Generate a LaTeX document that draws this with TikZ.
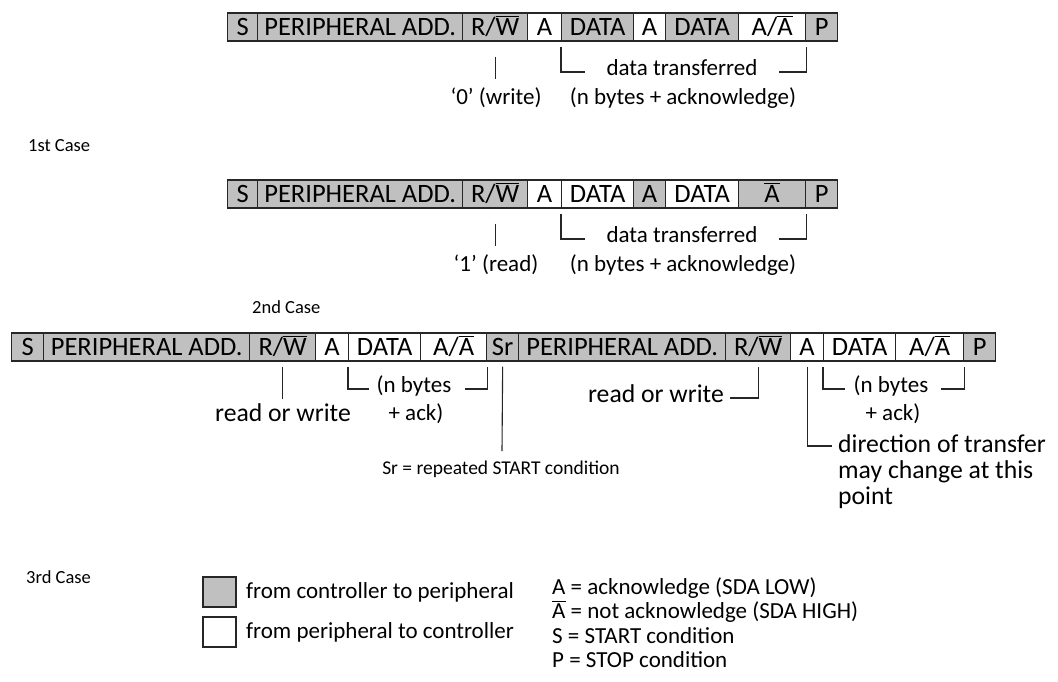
\documentclass[tikz,border=0pt]{standalone}
\usepackage{fontspec}
\setmainfont{Carlito}
\usetikzlibrary{calc}

\definecolor{cellgray}{RGB}{192,192,192}
\definecolor{edge}{RGB}{38,38,38}

% letter with a bar over it (R/W-bar, A-bar)
\newcommand\ovl[1]{\leavevmode\vbox{\hrule height 1.1pt\kern 1.6pt\hbox{#1}}}

\tikzset{
  cell/.style={draw=edge, line width=1.3pt, minimum height=28pt, inner sep=0pt,
    anchor=west, text height=17pt, text depth=0pt,
    font=\fontsize{26.5}{30}\selectfont},
  ctrl/.style={cell, fill=cellgray},
  peri/.style={cell, fill=white},
  conn/.style={draw=edge, line width=1.1pt},
  ann/.style={inner sep=0pt, anchor=base, font=\fontsize{23}{27}\selectfont},
  annbig/.style={inner sep=0pt, anchor=base, font=\fontsize{25.7}{29}\selectfont},
  annsmall/.style={inner sep=0pt, anchor=base, font=\fontsize{19.5}{23}\selectfont},
  caselabel/.style={inner sep=0pt, anchor=base west, font=\fontsize{18.5}{22}\selectfont},
  legbox/.style={draw=edge, line width=1.3pt, minimum width=33pt, minimum height=30pt, inner sep=0pt},
}

\begin{document}
\begin{tikzpicture}[x=1pt,y=-1pt]
\useasboundingbox (0,0) rectangle (1058,681);

% ---------- 1st case: controller writes ----------
\node[ctrl, minimum width=30pt]  (a1) at (227,27) {S};
\node[ctrl, minimum width=205pt] (a2) at (257,27) {PERIPHERAL ADD.};
\node[ctrl, minimum width=65pt]  (a3) at (462,27) {R/\ovl{W}};
\node[peri, minimum width=34pt]  (a4) at (527,27) {A};
\node[ctrl, minimum width=72pt]  (a5) at (561,27) {DATA};
\node[peri, minimum width=32pt]  (a6) at (633,27) {A};
\node[ctrl, minimum width=73pt]  (a7) at (665,27) {DATA};
\node[peri, minimum width=67pt]  (a8) at (738,27) {A/\ovl{A}};
\node[ctrl, minimum width=32pt]  (a9) at (805,27) {P};

\node[ann] (aw)  at (496,104) {‘0’ (write)};
\node[ann] (adt) at (682,75)  {data transferred};
\node[ann] (anb) at (683,104) {(n bytes + acknowledge)};
\coordinate (abl) at (585,72);
\coordinate (abr) at (779,72);
\draw[conn] ([yshift=-15pt]a3.south) -- ([yshift=-37pt]a3.south);
\draw[conn] ([yshift=-5pt]a5.south west) |- (abl);
\draw[conn] (abr) -| ([yshift=-5pt]a8.south east);

\node[caselabel] (c1) at (28,151) {1st Case};

% ---------- 2nd case: controller reads ----------
\node[ctrl, minimum width=30pt]  (b1) at (227,194) {S};
\node[ctrl, minimum width=205pt] (b2) at (257,194) {PERIPHERAL ADD.};
\node[ctrl, minimum width=65pt]  (b3) at (462,194) {R/\ovl{W}};
\node[peri, minimum width=34pt]  (b4) at (527,194) {A};
\node[peri, minimum width=72pt]  (b5) at (561,194) {DATA};
\node[ctrl, minimum width=32pt]  (b6) at (633,194) {A};
\node[peri, minimum width=73pt]  (b7) at (665,194) {DATA};
\node[ctrl, minimum width=67pt]  (b8) at (738,194) {\ovl{A}};
\node[ctrl, minimum width=32pt]  (b9) at (805,194) {P};

\node[ann] (bw)  at (496,271) {‘1’ (read)};
\node[ann] (bdt) at (682,242) {data transferred};
\node[ann] (bnb) at (683,271) {(n bytes + acknowledge)};
\coordinate (bbl) at (585,239);
\coordinate (bbr) at (779,239);
\draw[conn] ([yshift=-15pt]b3.south) -- ([yshift=-37pt]b3.south);
\draw[conn] ([yshift=-5pt]b5.south west) |- (bbl);
\draw[conn] (bbr) -| ([yshift=-5pt]b8.south east);

\node[caselabel] (c2) at (252,313) {2nd Case};

% ---------- 3rd case: combined format ----------
\node[ctrl, minimum width=32pt]  (d1)  at (11,347)  {S};
\node[ctrl, minimum width=206pt] (d2)  at (43,347)  {PERIPHERAL ADD.};
\node[ctrl, minimum width=66pt]  (d3)  at (249,347) {R/\ovl{W}};
\node[peri, minimum width=33pt]  (d4)  at (315,347) {A};
\node[peri, minimum width=72pt]  (d5)  at (348,347) {DATA};
\node[peri, minimum width=66pt]  (d6)  at (420,347) {A/\ovl{A}};
\node[ctrl, minimum width=32pt]  (d7)  at (486,347) {Sr};
\node[ctrl, minimum width=207pt] (d8)  at (518,347) {PERIPHERAL ADD.};
\node[ctrl, minimum width=65pt]  (d9)  at (725,347) {R/\ovl{W}};
\node[peri, minimum width=33pt]  (d10) at (790,347) {A};
\node[peri, minimum width=72pt]  (d11) at (823,347) {DATA};
\node[peri, minimum width=68pt]  (d12) at (895,347) {A/\ovl{A}};
\node[ctrl, minimum width=32pt]  (d13) at (963,347) {P};

% first transfer
\node[annbig] (drw1) at (283,421) {read or write};
\draw[conn] ([yshift=-5pt]d3.south) -- ([yshift=-37pt]d3.south);
\node[ann] (dnb1) at (414,392) {(n bytes};
\node[ann] (dak1) at (416,420) {+ ack)};
\coordinate (dbl1) at (369,389);
\coordinate (dbr1) at (465,389);
\draw[conn] ([yshift=-5pt]d5.south west) |- (dbl1);
\draw[conn] (dbr1) -| ([yshift=-5pt]d6.south east);

% repeated start
\node[annsmall] (dsr) at (501,474) {Sr = repeated START condition};
\coordinate (dsrend) at (502,451);
\draw[conn] ([yshift=-5pt]d7.south) -- (dsrend);

% second transfer
\node[annbig, anchor=base east] (drw2) at (724,402) {read or write};
\coordinate (drwl) at (730,398);
\draw[conn] (drwl) -| ([yshift=-5pt]d9.south);
\node[ann] (dnb2) at (891,392) {(n bytes};
\node[ann] (dak2) at (893,420) {+ ack)};
\coordinate (dbl2) at (845,389);
\coordinate (dbr2) at (941,389);
\draw[conn] ([yshift=-5pt]d11.south west) |- (dbl2);
\draw[conn] (dbr2) -| ([yshift=-5pt]d12.south east);

\node[annbig, anchor=base west] (ddir1) at (838,452) {direction of transfer};
\node[annbig, anchor=base west] (ddir2) at (838,478) {may change at this};
\node[annbig, anchor=base west] (ddir3) at (838,504) {point};
\coordinate (ddirl) at (832,446);
\draw[conn] ([yshift=-5pt]d10.south) |- (ddirl);

\node[caselabel] (c3) at (26,583) {3rd Case};

% ---------- legend ----------
\node[legbox, fill=cellgray] (lg1) at (219.5,592) {};
\node[legbox, fill=white]    (lg2) at (219.5,632) {};
\node[ann, anchor=base west] (lt1) at (246,598) {from controller to peripheral};
\node[ann, anchor=base west] (lt2) at (246,638) {from peripheral to controller};

\node[ann, anchor=base west] (k1) at (552,594) {A = acknowledge (SDA LOW)};
\node[ann, anchor=base west] (k2) at (552,618.5) {\ovl{A} = not acknowledge (SDA HIGH)};
\node[ann, anchor=base west] (k3) at (552,643) {S = START condition};
\node[ann, anchor=base west] (k4) at (552,667) {P = STOP condition};
\end{tikzpicture}
\end{document}
